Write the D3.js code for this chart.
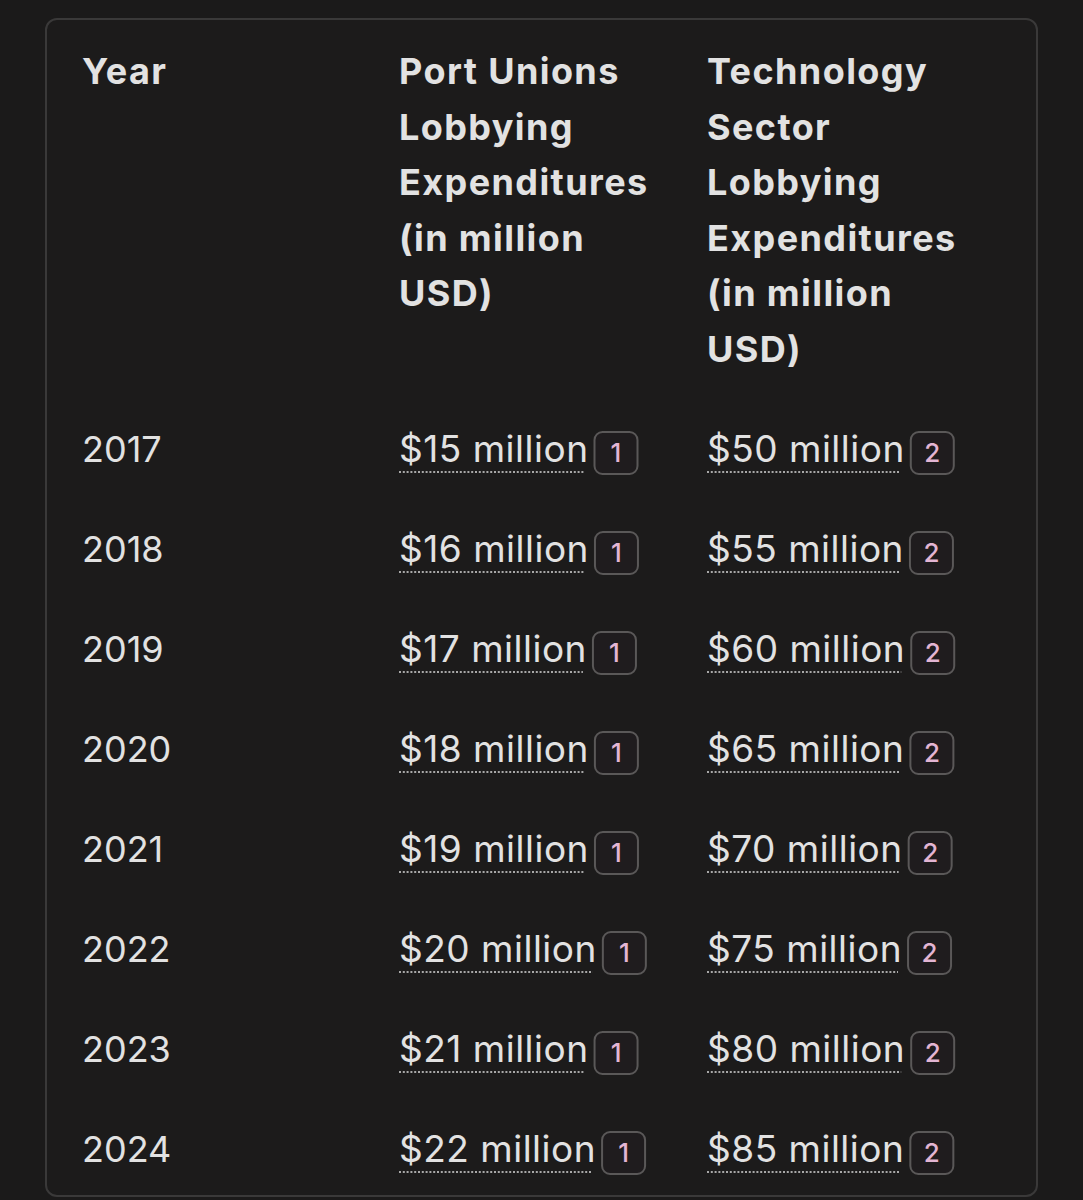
<!DOCTYPE html>
<html>
<head>
<meta charset="utf-8">
<script src="https://cdn.jsdelivr.net/npm/d3@7"></script>
<style>
  html, body { margin: 0; padding: 0; background: #1b1a1a; }
  svg { display: block; }
</style>
</head>
<body>
<div id="chart"></div>
<script>
(function () {

  // Table data
  const headers = [
    ["Year"],
    ["Port Unions", "Lobbying", "Expenditures", "(in million", "USD)"],
    ["Technology", "Sector", "Lobbying", "Expenditures", "(in million", "USD)"]
  ]
  const years = [2017, 2018, 2019, 2020, 2021, 2022, 2023, 2024]
  const portUnions = [15, 16, 17, 18, 19, 20, 21, 22]
  const techSector = [50, 55, 60, 65, 70, 75, 80, 85]
  const citations = ["1", "2"]

  const width = 1083
  const height = 1200

  const svg = d3.select("#chart").append("svg")
      .attr("width", width)
      .attr("height", height)

  // Card
  svg.append("rect")
    .attr("x", 46)
    .attr("y", 19)
    .attr("width", 991)
    .attr("height", 1177)
    .attr("rx", 11)
    .attr("fill", "#1c1b1b")
    .attr("stroke", "#3a3939")
    .attr("stroke-width", 2)

  // Column x positions
  const xScale = d3.scaleOrdinal()
    .domain([0, 1, 2])
    .range([82, 399, 707])

  // Header line baselines
  const headerLine = d3.scaleLinear()
    .domain([0, 1])
    .range([84, 139.5])

  // Row baselines
  const yScale = d3.scalePoint()
    .domain(years)
    .range([462, 1162])

  const font = "Inter, 'Noto Sans', sans-serif"

  // Header text
  headers.forEach((lines, c) => {
    svg.append("text")
      .attr("font-family", font)
      .attr("font-weight", 700)
      .attr("font-size", 36)
      .attr("letter-spacing", 1.4)
      .attr("fill", "#e2e2e2")
      .selectAll("tspan")
      .data(lines)
      .join("tspan")
      .attr("x", xScale(c))
      .attr("y", (d, i) => headerLine(i))
      .text(d => d)
  })

  // Year column
  svg.selectAll(".year")
    .data(years)
    .join("text")
    .attr("class", "year")
    .attr("x", xScale(0))
    .attr("y", d => yScale(d))
    .attr("font-family", font)
    .attr("font-size", 36)
    .attr("fill", "#e2e2e2")
    .text(d => d)

  // Value cells with dotted underline and citation badge
  function drawColumn(values, col, cite) {
    const g = svg.append("g")
    values.forEach((v, i) => {
      const y = yScale(years[i])
      const x = xScale(col)
      const t = g.append("text")
        .attr("x", x)
        .attr("y", y)
        .attr("font-family", font)
        .attr("font-size", 37)
        .attr("letter-spacing", 0.5)
        .attr("fill", "#e2e2e2")
        .text("$" + v + " million")
      const w = t.node().getComputedTextLength()

      g.append("line")
        .attr("x1", x)
        .attr("x2", x + w - 4)
        .attr("y1", y + 10)
        .attr("y2", y + 10)
        .attr("stroke", "#a8a8a8")
        .attr("stroke-width", 2)
        .attr("stroke-dasharray", "2,1.8")

      const bx = x + w + 6
      g.append("rect")
        .attr("x", bx)
        .attr("y", y - 30)
        .attr("width", 43)
        .attr("height", 42)
        .attr("rx", 8)
        .attr("fill", "#1f1c1e")
        .attr("stroke", "#5a5858")
        .attr("stroke-width", 2)

      g.append("text")
        .attr("x", bx + 21.5)
        .attr("y", y + 0)
        .attr("text-anchor", "middle")
        .attr("font-family", font)
        .attr("font-size", 26)
        .attr("font-weight", 500)
        .attr("fill", "#e3b5d3")
        .text(cite)
    })
  }

  drawColumn(portUnions, 1, citations[0])
  drawColumn(techSector, 2, citations[1])

})();
</script>
</body>
</html>
